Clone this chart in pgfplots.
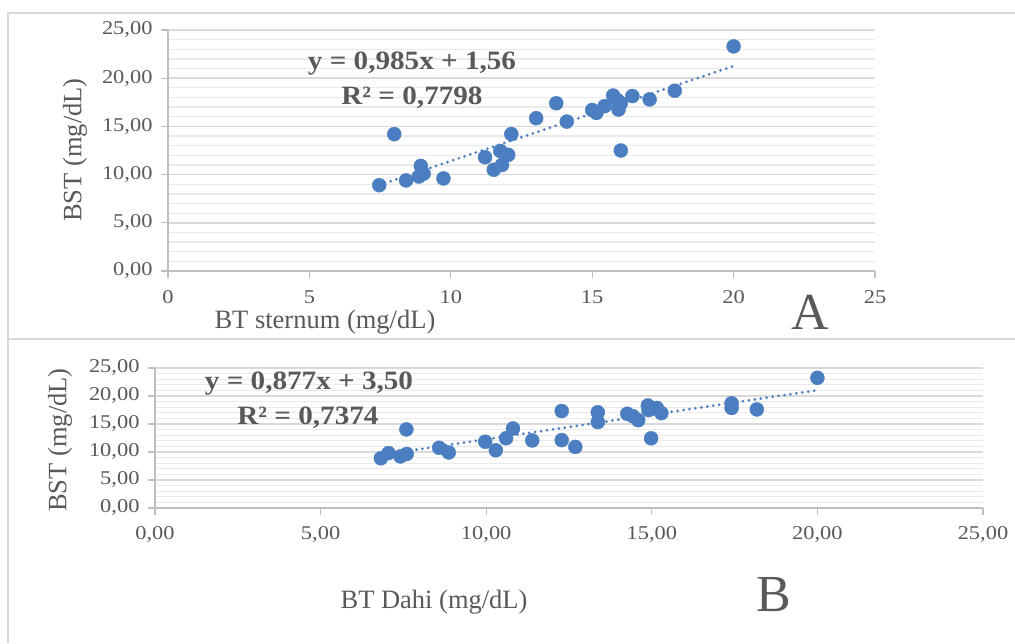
\documentclass[border=0pt]{standalone}
\usepackage{fontspec}
\setmainfont{Liberation Serif}
\newfontfamily\tickfont[FakeStretch=1.15]{Liberation Serif}
\newfontfamily\eqfont[FakeStretch=1.1]{Liberation Serif}
\usepackage{pgfplots}
\pgfplotsset{compat=1.18}
\definecolor{dot}{RGB}{74,126,193}
\definecolor{txt}{RGB}{89,89,89}
\definecolor{gridmaj}{RGB}{217,217,217}
\definecolor{gridmin}{RGB}{234,234,234}
\definecolor{framec}{RGB}{217,217,217}
\definecolor{axc}{RGB}{191,191,191}

\pgfplotstableread{
x y
20.00 23.30
8.00 14.20
7.47 8.90
8.42 9.40
8.94 10.90
8.87 9.80
9.04 10.10
9.74 9.60
11.21 11.80
11.52 10.50
11.75 12.45
11.81 11.00
12.03 12.05
12.14 14.20
13.02 15.85
13.73 17.40
14.10 15.50
15.00 16.70
15.15 16.40
15.44 17.10
15.74 18.20
15.90 17.70
15.93 16.75
16.01 17.40
16.01 12.50
16.42 18.15
17.03 17.80
17.92 18.70
}\dataA

\pgfplotstableread{
x y
20.00 23.25
6.82 8.88
7.05 9.81
7.41 9.21
7.60 9.65
7.59 14.04
8.58 10.75
8.87 9.92
9.97 11.84
10.29 10.31
10.60 12.45
10.81 14.20
11.39 12.06
12.28 17.32
12.28 12.12
12.69 10.91
13.37 17.10
13.37 15.35
14.26 16.83
14.43 16.39
14.59 15.68
14.88 18.31
14.90 17.49
15.15 17.87
15.29 16.94
14.98 12.45
17.41 18.70
17.41 17.87
18.17 17.60
}\dataB

\pgfplotsset{
 myax/.style={
  scale only axis, anchor=south west,
  xmin=0, xmax=25, ymin=0, ymax=25,
  xtick={0,5,10,15,20,25}, ytick={0,5,10,15,20,25},
  minor y tick num=4,
  ymajorgrids, yminorgrids,
  major grid style={draw=gridmaj, line width=1.6pt},
  minor grid style={draw=gridmin, line width=1.3pt},
  axis x line*=bottom, axis y line*=left,
  axis line style={draw=axc, line width=1.3pt, -},
  tick align=outside, major tick length=7pt, minor tick length=0pt,
  tick style={draw=axc, line width=1.3pt},
  yticklabels={{0,00},{5,00},{10,00},{15,00},{20,00},{25,00}},
  tick label style={font=\tickfont\fontsize{19.5}{19.5}\selectfont, text=txt},
  yticklabel style={xshift=-5pt},
  label style={font=\fontsize{26.5}{26.5}\selectfont, text=txt},
  clip=false,
 },
 dots/.style={only marks, mark=*, mark size=7pt, mark options={draw=dot, fill=dot}},
 trend/.style={draw=dot, line width=3pt, line cap=round, dash pattern=on 0pt off 6pt},
}

\begin{document}
\begin{tikzpicture}[x=1pt,y=1pt]
\useasboundingbox (0,0) rectangle (1015,643);
\fill[white] (0,0) rectangle (1015,643);
\draw[framec, line width=1.5pt] (1015,630) -- (8,630) -- (8,0);
\draw[framec, line width=1.5pt] (8,304) -- (1015,304);

% Panel A
\begin{axis}[myax, at={(168pt,372pt)}, width=707pt, height=241pt,
  xticklabels={0,5,10,15,20,25},
  xticklabel style={yshift=-9pt},
  xlabel={BT sternum (mg/dL)}, ylabel={BST (mg/dL)},
  xlabel style={at={(axis description cs:0.222,-0.213)}, anchor=center},
  ylabel style={at={(axis description cs:-0.1315,0.502)}, anchor=center},
]
\addplot[dots] table[x=x,y=y] {\dataA};
\addplot[trend] coordinates {(7.47,8.92) (20,21.26)};
\end{axis}
\node[font=\eqfont\bfseries\fontsize{26.5}{26.5}\selectfont, text=txt] at (412,579) {y = 0,985x + 1,56};
\node[font=\eqfont\bfseries\fontsize{26.5}{26.5}\selectfont, text=txt] at (412,545) {R² = 0,7798};
\node[font=\fontsize{52}{52}\selectfont, text=txt] at (810,331) {A};

% Panel B
\begin{axis}[myax, at={(155pt,135pt)}, width=828pt, height=140pt,
  xticklabels={{0,00},{5,00},{10,00},{15,00},{20,00},{25,00}},
  xticklabel style={yshift=-8pt},
  xlabel={BT Dahi (mg/dL)}, ylabel={BST (mg/dL)},
  xlabel style={at={(axis description cs:0.337,-0.671)}, anchor=center},
  ylabel style={at={(axis description cs:-0.1147,0.486)}, anchor=center},
]
\addplot[dots] table[x=x,y=y] {\dataB};
\addplot[trend] coordinates {(6.82,9.48) (20,21.04)};
\end{axis}
\node[font=\eqfont\bfseries\fontsize{26.5}{26.5}\selectfont, text=txt] at (309,259) {y = 0,877x + 3,50};
\node[font=\eqfont\bfseries\fontsize{26.5}{26.5}\selectfont, text=txt] at (308,225) {R² = 0,7374};
\node[font=\fontsize{52}{52}\selectfont, text=txt] at (774,48) {B};
\end{tikzpicture}
\end{document}
